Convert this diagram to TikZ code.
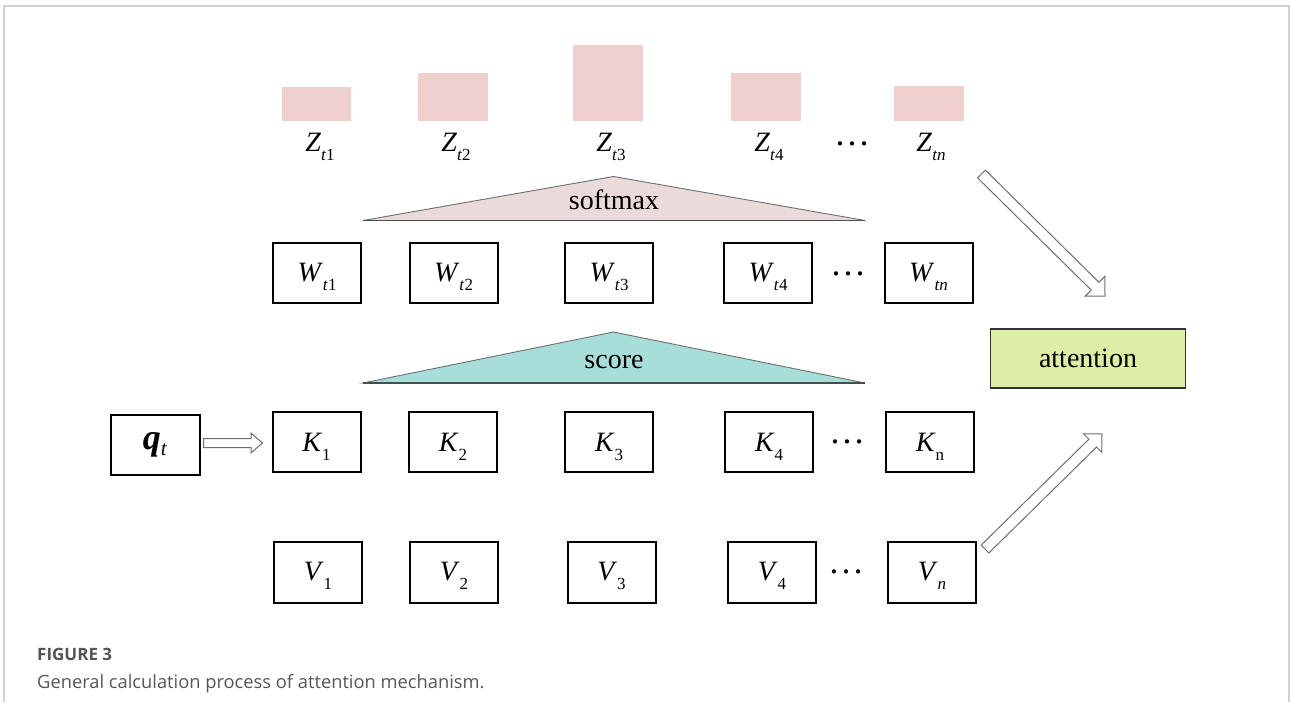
\documentclass[tikz,border=0pt]{standalone}
\usepackage{fontspec}
\setmainfont{Liberation Serif}
\newfontfamily\capfont{Open Sans}
\usetikzlibrary{calc}
\definecolor{zbar}{RGB}{240,207,207}
\definecolor{smfill}{RGB}{234,218,218}
\definecolor{scfill}{RGB}{168,222,218}
\definecolor{attfill}{RGB}{221,238,166}
\definecolor{framec}{RGB}{208,208,208}
\definecolor{capc}{RGB}{85,85,85}
\definecolor{arrc}{RGB}{110,110,110}
\newcommand\ilab[2]{\textit{#1}\raisebox{-9pt}[0pt][0pt]{\fontsize{17}{17}\selectfont #2}}
\newcommand\blockarr[5]{%
  \coordinate (hb) at ($(#2)!#5!(#1)$);
  \draw[barrow] ($(#1)!#3!90:(#2)$) -- ($(hb)!#3!90:(#2)$) -- ($(hb)!#4!90:(#2)$) -- (#2)
    -- ($(hb)!#4!-90:(#2)$) -- ($(hb)!#3!-90:(#2)$) -- ($(#1)!#3!-90:(#2)$) -- cycle;}
\begin{document}
\begin{tikzpicture}[x=1pt,y=-1pt,
  box/.style={draw=black, line width=2pt, minimum width=88pt, minimum height=60pt, inner sep=0pt, font=\fontsize{28}{28}\selectfont},
  zlab/.style={inner sep=0pt, font=\fontsize{28}{28}\selectfont},
  dots/.style={inner sep=0pt, anchor=base, font=\fontsize{36}{36}\selectfont},
  tri/.style={draw=arrc, line width=0.9pt},
  trilab/.style={inner sep=0pt, anchor=base, font=\fontsize{28}{28}\selectfont},
  barrow/.style={draw=arrc, fill=white, line width=1pt, line join=miter}]
\useasboundingbox (0,0) rectangle (1290,702);
% frame
\draw[framec, line width=1.5pt] (4,702) -- (4,6) -- (1289,6) -- (1289,702);
% Z bars
\fill[zbar] (282,87) rectangle (351,121);
\fill[zbar] (418,73) rectangle (488,121);
\fill[zbar] (573,45) rectangle (643,121);
\fill[zbar] (731,73) rectangle (801,121);
\fill[zbar] (894,86) rectangle (964,121);
\node[zlab] (Z1) at (320,142.5) {\ilab{Z}{\textit{t}1}};
\node[zlab] (Z2) at (456,142.5) {\ilab{Z}{\textit{t}2}};
\node[zlab] (Z3) at (611,142.5) {\ilab{Z}{\textit{t}3}};
\node[zlab] (Z4) at (769,142.5) {\ilab{Z}{\textit{t}4}};
\node[zlab] (Zn) at (931,142.5) {\ilab{Z}{\textit{tn}}};
\node[dots] (zd) at (852,145) {…};
% softmax triangle
\draw[tri, fill=smfill] (363,220.5) -- (613.5,176.5) -- (865,220.5) -- cycle;
\draw[black!70, line width=1.4pt] (363,220.5) -- (865,220.5);
\node[trilab] (sm) at (614,209) {softmax};
% W row
\node[box] (W1) at (317,273) {\ilab{W}{\textit{t}1}};
\node[box] (W2) at (453.5,273) {\ilab{W}{\textit{t}2}};
\node[box] (W3) at (609,273) {\ilab{W}{\textit{t}3}};
\node[box] (W4) at (768,273) {\ilab{W}{\textit{t}4}};
\node[box] (Wn) at (928.5,273) {\ilab{W}{\textit{tn}}};
\node[dots] (wd) at (848,275) {…};
% score triangle
\draw[tri, fill=scfill] (363,383) -- (613.5,332) -- (865,383) -- cycle;
\draw[black!70, line width=1.4pt] (363,383) -- (865,383);
\node[trilab] (sc) at (614,368) {score};
% K row
\node[box, minimum width=89pt] (q) at (155,444.5) {\fontsize{36}{36}\selectfont\textbf{\textit{q}}\raisebox{-6pt}[0pt][0pt]{\fontsize{21}{21}\selectfont\textit{t}}};
\node[box] (K1) at (316.5,442) {\ilab{K}{1}};
\node[box] (K2) at (453,442) {\ilab{K}{2}};
\node[box] (K3) at (609,442) {\ilab{K}{3}};
\node[box] (K4) at (769,442) {\ilab{K}{4}};
\node[box] (Kn) at (930,442) {\ilab{K}{n}};
\node[dots] (kd) at (847,443) {…};
% V row
\node[box, minimum height=61pt] (V1) at (318,572) {\ilab{V}{1}};
\node[box, minimum height=61pt] (V2) at (454,572) {\ilab{V}{2}};
\node[box, minimum height=61pt] (V3) at (611.5,572) {\ilab{V}{3}};
\node[box, minimum height=61pt] (V4) at (772,572) {\ilab{V}{4}};
\node[box, minimum height=61pt] (Vn) at (932,572) {\ilab{V}{\textit{n}}};
\node[dots] (vd) at (846,573) {…};
% attention
\node[draw=black!80, line width=1.5pt, fill=attfill, minimum width=195pt, minimum height=59pt, inner sep=0pt, font=\fontsize{28}{28}\selectfont] (att) at (1088,358.5) {attention};
% arrows
\coordinate (qa) at ($(q.east)+(3,-1.5)$);
\coordinate (qb) at ($(K1.west)+(-9,1)$);
\blockarr{qa}{qb}{4.5pt}{10pt}{11.5pt}
\coordinate (ta) at (981.5,174);
\coordinate (tb) at (1105,296);
\blockarr{ta}{tb}{5.5pt}{14pt}{14pt}
\coordinate (ba) at (985,549);
\coordinate (bb) at (1102,434);
\blockarr{ba}{bb}{5.5pt}{13pt}{13pt}
% caption
\node[anchor=base west, inner sep=0pt, text=capc, font=\capfont\bfseries\fontsize{17}{17}\selectfont] (fig) at (37,660) {FIGURE 3};
\node[anchor=base west, inner sep=0pt, text=capc, font=\capfont\fontsize{18.3}{18.3}\selectfont] (cap) at (37,688) {General calculation process of attention mechanism.};
\end{tikzpicture}
\end{document}
